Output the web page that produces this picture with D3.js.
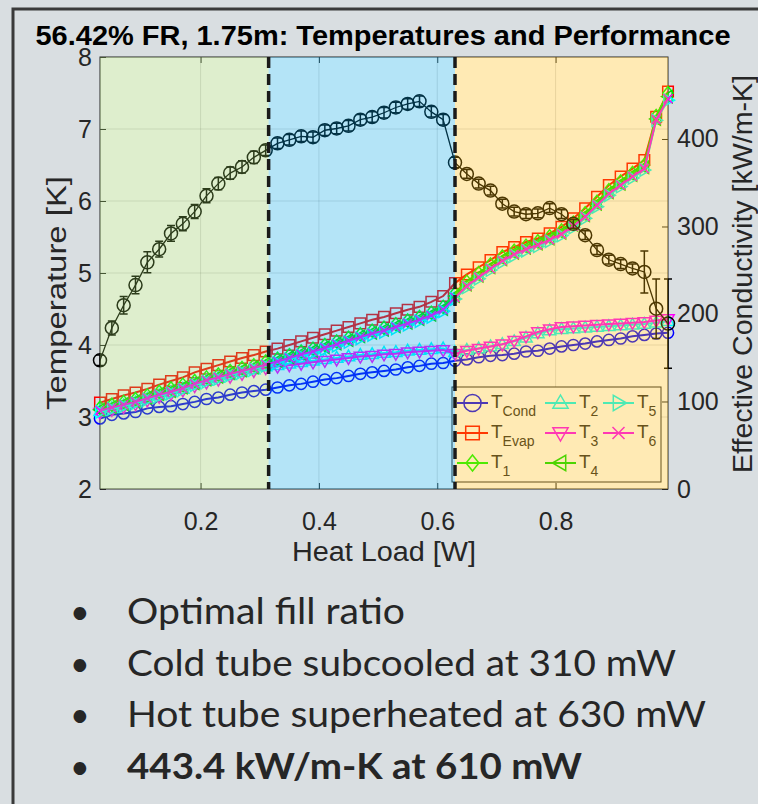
<!DOCTYPE html>
<html>
<head>
<meta charset="utf-8">
<script src="https://cdn.jsdelivr.net/npm/d3@7"></script>
<style>
body { margin: 0; background: #d9dee1; }
svg { display: block; }
</style>
</head>
<body>
<script>
var width = 758, height = 804;

// heat load steps [W]
var heatLoad = [0.03,0.05,0.07,0.09,0.11,0.13,0.15,0.17,0.19,0.21,0.23,0.25,0.27,0.29,0.31,
  0.33,0.35,0.37,0.39,0.41,0.43,0.45,0.47,0.49,0.51,0.53,0.55,0.57,0.59,0.61,0.63,
  0.65,0.67,0.69,0.71,0.73,0.75,0.77,0.79,0.81,0.83,0.85,0.87,0.89,0.91,0.93,0.95,0.97,0.99];

// temperatures [K]
var tCond = [2.98,3.03,3.05,3.07,3.12,3.14,3.15,3.18,3.21,3.25,3.27,3.31,3.34,3.36,3.38,
  3.41,3.44,3.46,3.49,3.52,3.54,3.57,3.60,3.62,3.64,3.66,3.69,3.71,3.74,3.75,3.78,
  3.80,3.83,3.85,3.86,3.88,3.91,3.92,3.95,3.98,4.00,4.02,4.05,4.07,4.09,4.12,4.14,4.16,4.17];
var tEvap = [3.20,3.25,3.30,3.34,3.39,3.45,3.50,3.55,3.62,3.67,3.72,3.77,3.82,3.86,3.91,
  3.95,4.00,4.05,4.10,4.15,4.20,4.25,4.30,4.35,4.39,4.44,4.49,4.53,4.60,4.68,4.86,
  4.98,5.08,5.18,5.29,5.36,5.43,5.48,5.55,5.64,5.76,5.90,6.06,6.22,6.34,6.45,6.57,7.17,7.52];
var t1 = [3.13,3.17,3.21,3.25,3.30,3.35,3.40,3.45,3.50,3.55,3.59,3.64,3.68,3.72,3.77,
  3.81,3.86,3.91,3.95,4.00,4.05,4.10,4.15,4.20,4.24,4.29,4.34,4.39,4.45,4.53,4.72,
  4.88,5.00,5.12,5.23,5.31,5.38,5.44,5.51,5.59,5.70,5.83,5.99,6.15,6.27,6.39,6.50,7.18,7.50];
var t2 = [3.08,3.12,3.16,3.20,3.25,3.30,3.34,3.39,3.45,3.50,3.54,3.58,3.62,3.66,3.70,
  3.72,3.74,3.76,3.78,3.80,3.82,3.84,3.86,3.87,3.89,3.90,3.92,3.93,3.94,3.95,3.90,
  3.93,3.95,3.98,4.01,4.05,4.10,4.16,4.20,4.22,4.23,4.24,4.25,4.26,4.27,4.28,4.29,4.31,4.33];
var t3 = [3.06,3.10,3.14,3.18,3.23,3.28,3.32,3.37,3.43,3.48,3.52,3.56,3.60,3.64,3.68,
  3.70,3.72,3.74,3.76,3.78,3.80,3.82,3.84,3.85,3.87,3.88,3.90,3.91,3.92,3.93,3.88,
  3.92,3.95,3.98,4.01,4.06,4.12,4.18,4.22,4.25,4.26,4.27,4.28,4.29,4.30,4.31,4.32,4.34,4.36];
var t4 = [3.10,3.14,3.18,3.22,3.27,3.32,3.36,3.41,3.47,3.52,3.56,3.61,3.65,3.69,3.74,
  3.78,3.83,3.88,3.92,3.97,4.02,4.07,4.12,4.17,4.21,4.26,4.31,4.36,4.42,4.50,4.68,
  4.84,4.96,5.08,5.19,5.28,5.35,5.41,5.48,5.56,5.67,5.80,5.96,6.12,6.24,6.36,6.47,7.14,7.45];
var t5 = [3.07,3.11,3.15,3.19,3.24,3.29,3.33,3.38,3.44,3.49,3.53,3.58,3.62,3.66,3.71,
  3.75,3.80,3.85,3.89,3.94,3.99,4.04,4.09,4.14,4.18,4.23,4.28,4.33,4.39,4.47,4.64,
  4.80,4.92,5.04,5.15,5.24,5.31,5.37,5.44,5.52,5.63,5.76,5.92,6.08,6.20,6.32,6.43,7.12,7.40];
var t6 = [3.09,3.13,3.17,3.21,3.26,3.31,3.35,3.40,3.46,3.51,3.55,3.60,3.64,3.68,3.73,
  3.77,3.82,3.87,3.91,3.96,4.01,4.06,4.11,4.16,4.20,4.25,4.30,4.35,4.41,4.49,4.66,
  4.82,4.94,5.06,5.17,5.26,5.33,5.39,5.46,5.54,5.65,5.78,5.94,6.10,6.22,6.34,6.45,7.13,7.42];

// effective conductivity [kW/m-K] and its error
var keff = [147,184,210,233,259,274,292,303,317,335,349,361,368,379,387,
  395,399,403,402,410,412,415,422,425,430,436,440,443,431,422,373,
  360,349,341,326,317,314,315,321,314,303,290,273,262,257,252,248,206,189];
var keffErr = [6,8,10,10,12,9,9,8,8,8,7,7,7,7,6,
  6,6,6,6,6,6,6,6,6,6,6,6,6,6,6,6,
  5,5,5,5,5,5,5,5,5,5,5,5,5,5,5,24,34,51];

// regions (heat load limits) and ticks
var regionEdges = [0.03, 0.315, 0.63, 0.99];
var regionColors = ["rgb(145,198,88)", "rgb(5,165,228)", "rgb(255,185,5)"];
var xTicks = [0.2, 0.4, 0.6, 0.8];
var yLeftTicks = [2, 3, 4, 5, 6, 7, 8];
var yRightTicks = [0, 100, 200, 300, 400];

var bullets = ["Optimal fill ratio", "Cold tube subcooled at 310 mW",
  "Hot tube superheated at 630 mW", "443.4 kW/m-K at 610 mW"];
var bulletWidths = [278, 549, 579, 455];

var series = [
  {sub: "Cond", values: tCond, color: "#0000ff", marker: "circle", size: 5.6},
  {sub: "Evap", values: tEvap, color: "#ff0000", marker: "square", size: 5.3},
  {sub: "1", values: t1, color: "#00ff00", marker: "diamond", size: 6.5},
  {sub: "2", values: t2, color: "#00ffff", marker: "up", size: 6.5},
  {sub: "3", values: t3, color: "#ff00ff", marker: "down", size: 6.5},
  {sub: "4", values: t4, color: "#00e000", marker: "left", size: 6.5},
  {sub: "5", values: t5, color: "#00ffff", marker: "right", size: 6.5},
  {sub: "6", values: t6, color: "#ff00ff", marker: "x", size: 4.5}
];

var font = "'Liberation Sans', Arial, Helvetica, sans-serif";
var axisColor = "#262626";

var svg = d3.select("body").append("svg")
    .attr("width", width)
    .attr("height", height);

// slide background and frame
svg.append("rect")
    .attr("width", width)
    .attr("height", height)
    .attr("fill", "#d9dee1");
svg.append("path")
    .attr("d", "M13," + height + "V9H" + width)
    .attr("fill", "none")
    .attr("stroke", "#3a3a3a")
    .attr("stroke-width", 3);

var plotL = 100, plotR = 668, plotT = 57, plotB = 489;

var x = d3.scaleLinear().domain([0.03, 0.99]).range([plotL, plotR]);
var yL = d3.scaleLinear().domain([2, 8]).range([plotB, plotT]);
var yR = d3.scaleLinear().domain([0, 493.7]).range([plotB, plotT]);

// title
svg.append("text")
    .attr("x", (plotL + plotR) / 2 - 1)
    .attr("y", 45)
    .attr("text-anchor", "middle")
    .attr("font-family", font)
    .attr("font-weight", "bold")
    .attr("font-size", 27)
    .attr("textLength", 695)
    .attr("lengthAdjust", "spacingAndGlyphs")
    .attr("fill", "#000")
    .text("56.42% FR, 1.75m: Temperatures and Performance");

// plot background
svg.append("rect")
    .attr("x", plotL).attr("y", plotT)
    .attr("width", plotR - plotL).attr("height", plotB - plotT)
    .attr("fill", "#fff");

// grid
var grid = svg.append("g").attr("stroke", axisColor).attr("stroke-opacity", 0.15);
grid.selectAll(".gx").data(xTicks).enter().append("line")
    .attr("x1", function(d) { return x(d); })
    .attr("x2", function(d) { return x(d); })
    .attr("y1", plotT).attr("y2", plotB);
grid.selectAll(".gy").data(yLeftTicks.slice(1, -1)).enter().append("line")
    .attr("x1", plotL).attr("x2", plotR)
    .attr("y1", function(d) { return yL(d); })
    .attr("y2", function(d) { return yL(d); });

// axes
function styleAxis(g) {
  g.select(".domain").remove();
  g.selectAll(".tick line").attr("stroke", axisColor).attr("stroke-width", 1);
  g.selectAll(".tick text")
      .attr("font-family", font)
      .attr("font-size", 25)
      .attr("fill", axisColor);
}

svg.append("g")
    .attr("transform", "translate(0," + plotB + ")")
    .call(d3.axisBottom(x).tickValues(xTicks).tickSize(-6).tickPadding(23)
      .tickFormat(d3.format(".1f")))
    .call(styleAxis);
svg.append("g")
    .attr("transform", "translate(0," + plotT + ")")
    .call(d3.axisTop(x).tickValues(xTicks).tickSize(-6).tickFormat(""))
    .call(styleAxis);
svg.append("g")
    .attr("transform", "translate(" + plotL + ",0)")
    .call(d3.axisLeft(yL).tickValues(yLeftTicks).tickSize(-6).tickPadding(8)
      .tickFormat(d3.format("d")))
    .call(styleAxis);
svg.append("g")
    .attr("transform", "translate(" + plotR + ",0)")
    .call(d3.axisRight(yR).tickValues(yRightTicks).tickSize(-6).tickPadding(9))
    .call(styleAxis);

// plot box
svg.append("rect")
    .attr("x", plotL).attr("y", plotT)
    .attr("width", plotR - plotL).attr("height", plotB - plotT)
    .attr("fill", "none")
    .attr("stroke", axisColor)
    .attr("stroke-width", 1);

// axis labels
svg.append("text")
    .attr("x", (plotL + plotR) / 2)
    .attr("y", 561)
    .attr("text-anchor", "middle")
    .attr("font-family", font)
    .attr("font-size", 27)
    .attr("textLength", 184)
    .attr("lengthAdjust", "spacingAndGlyphs")
    .attr("fill", axisColor)
    .text("Heat Load [W]");
svg.append("text")
    .attr("transform", "translate(66,293) rotate(-90)")
    .attr("text-anchor", "middle")
    .attr("font-family", font)
    .attr("font-size", 27)
    .attr("textLength", 234)
    .attr("lengthAdjust", "spacingAndGlyphs")
    .attr("fill", axisColor)
    .text("Temperature [K]");
svg.append("text")
    .attr("transform", "translate(752,274) rotate(-90)")
    .attr("text-anchor", "middle")
    .attr("font-family", font)
    .attr("font-size", 27)
    .attr("textLength", 398)
    .attr("lengthAdjust", "spacingAndGlyphs")
    .attr("fill", axisColor)
    .text("Effective Conductivity [kW/m-K]");

// marker shapes
function markerPath(type, s) {
  var a = s * 0.95, b = s * 0.65;
  switch (type) {
    case "circle": return "M" + s + ",0A" + s + "," + s + " 0 1,1 " + (-s) + ",0A" + s + "," + s + " 0 1,1 " + s + ",0Z";
    case "square": return "M" + (-s) + "," + (-s) + "H" + s + "V" + s + "H" + (-s) + "Z";
    case "diamond": return "M0," + (-s) + "L" + (s * 0.8) + ",0L0," + s + "L" + (-s * 0.8) + ",0Z";
    case "up": return "M0," + (-s) + "L" + a + "," + b + "L" + (-a) + "," + b + "Z";
    case "down": return "M0," + s + "L" + a + "," + (-b) + "L" + (-a) + "," + (-b) + "Z";
    case "left": return "M" + (-s) + ",0L" + b + "," + (-a) + "L" + b + "," + a + "Z";
    case "right": return "M" + s + ",0L" + (-b) + "," + (-a) + "L" + (-b) + "," + a + "Z";
    case "x": return "M" + (-s) + "," + (-s) + "L" + s + "," + s + "M" + (-s) + "," + s + "L" + s + "," + (-s);
  }
}

var plot = svg.append("g");

// temperature series
series.forEach(function(s) {
  var pts = heatLoad.map(function(h, i) { return [h, s.values[i]]; });
  var line = d3.line()
      .x(function(d) { return x(d[0]); })
      .y(function(d) { return yL(d[1]); });
  plot.append("path")
      .datum(pts)
      .attr("d", line)
      .attr("fill", "none")
      .attr("stroke", s.color)
      .attr("stroke-width", 2);
  plot.append("g").selectAll("path")
      .data(pts).enter().append("path")
      .attr("transform", function(d) { return "translate(" + x(d[0]) + "," + yL(d[1]) + ")"; })
      .attr("d", markerPath(s.marker, s.size))
      .attr("fill", "none")
      .attr("stroke", s.color)
      .attr("stroke-width", 1.5);
});

// effective conductivity with error bars
var kPts = heatLoad.map(function(h, i) { return {h: h, k: keff[i], e: keffErr[i]}; });
plot.append("path")
    .datum(kPts)
    .attr("d", d3.line().x(function(d) { return x(d.h); }).y(function(d) { return yR(d.k); }))
    .attr("fill", "none")
    .attr("stroke", "#000")
    .attr("stroke-width", 1.3);
var eb = plot.append("g").attr("stroke", "#000").attr("stroke-width", 1.5).attr("fill", "none");
eb.selectAll("path")
    .data(kPts).enter().append("path")
    .attr("d", function(d) {
      var cx = x(d.h), y1 = yR(d.k - d.e), y2 = yR(d.k + d.e);
      return "M" + cx + "," + y1 + "V" + y2 +
        "M" + (cx - 4) + "," + y1 + "H" + (cx + 4) +
        "M" + (cx - 4) + "," + y2 + "H" + (cx + 4);
    });
plot.append("g").selectAll("circle")
    .data(kPts).enter().append("circle")
    .attr("cx", function(d) { return x(d.h); })
    .attr("cy", function(d) { return yR(d.k); })
    .attr("r", 6.5)
    .attr("fill", "none")
    .attr("stroke", "#000")
    .attr("stroke-width", 1.5);

// legend
var legend = svg.append("g");
legend.append("rect")
    .attr("x", 452).attr("y", 387)
    .attr("width", 209).attr("height", 95)
    .attr("fill", "#fff")
    .attr("stroke", axisColor)
    .attr("stroke-width", 1);
var colX = [457, 545, 603];
var rowY = [403, 433, 463];
series.forEach(function(s, i) {
  var c = Math.floor(i / 3), r = i % 3;
  var lx = colX[c], ly = rowY[r];
  var item = legend.append("g");
  item.append("line")
      .attr("x1", lx).attr("x2", lx + 31)
      .attr("y1", ly).attr("y2", ly)
      .attr("stroke", s.color).attr("stroke-width", 2);
  item.append("path")
      .attr("transform", "translate(" + (lx + 15.5) + "," + ly + ")")
      .attr("d", markerPath(s.marker, s.size + (s.marker == "circle" ? 3 : 1.5)))
      .attr("fill", "none")
      .attr("stroke", s.color)
      .attr("stroke-width", 1.5);
  var t = item.append("text")
      .attr("x", lx + 34)
      .attr("y", ly + 5)
      .attr("font-family", font)
      .attr("font-size", 19)
      .attr("fill", axisColor);
  t.append("tspan").text("T");
  t.append("tspan").attr("dy", 8).attr("font-size", 14).text(s.sub);
});

// translucent regions laid over the plot
svg.append("g").selectAll("rect")
    .data(regionColors).enter().append("rect")
    .attr("x", function(d, i) { return x(regionEdges[i]); })
    .attr("y", plotT)
    .attr("width", function(d, i) { return x(regionEdges[i + 1]) - x(regionEdges[i]); })
    .attr("height", plotB - plotT)
    .attr("fill", function(d) { return d; })
    .attr("fill-opacity", 0.3);

// phase boundaries
svg.append("g").selectAll("line")
    .data(regionEdges.slice(1, 3)).enter().append("line")
    .attr("x1", function(d) { return x(d); })
    .attr("x2", function(d) { return x(d); })
    .attr("y1", plotT).attr("y2", plotB)
    .attr("stroke", "#1a1a1a")
    .attr("stroke-width", 3.5)
    .attr("stroke-dasharray", "11,6");

// bullet notes
var notes = svg.append("g")
    .attr("font-family", "Lato, 'Open Sans', sans-serif")
    .attr("fill", "#262626");
bullets.forEach(function(b, i) {
  var by = 624 + i * 51.5;
  notes.append("text")
      .attr("x", 70).attr("y", by)
      .attr("font-size", 34)
      .text("\u2022");
  notes.append("text")
      .attr("x", 127).attr("y", by)
      .attr("font-size", 37)
      .attr("font-weight", i == 3 ? "bold" : "normal")
      .attr("textLength", bulletWidths[i])
      .attr("lengthAdjust", "spacingAndGlyphs")
      .text(b);
});
</script>
</body>
</html>
